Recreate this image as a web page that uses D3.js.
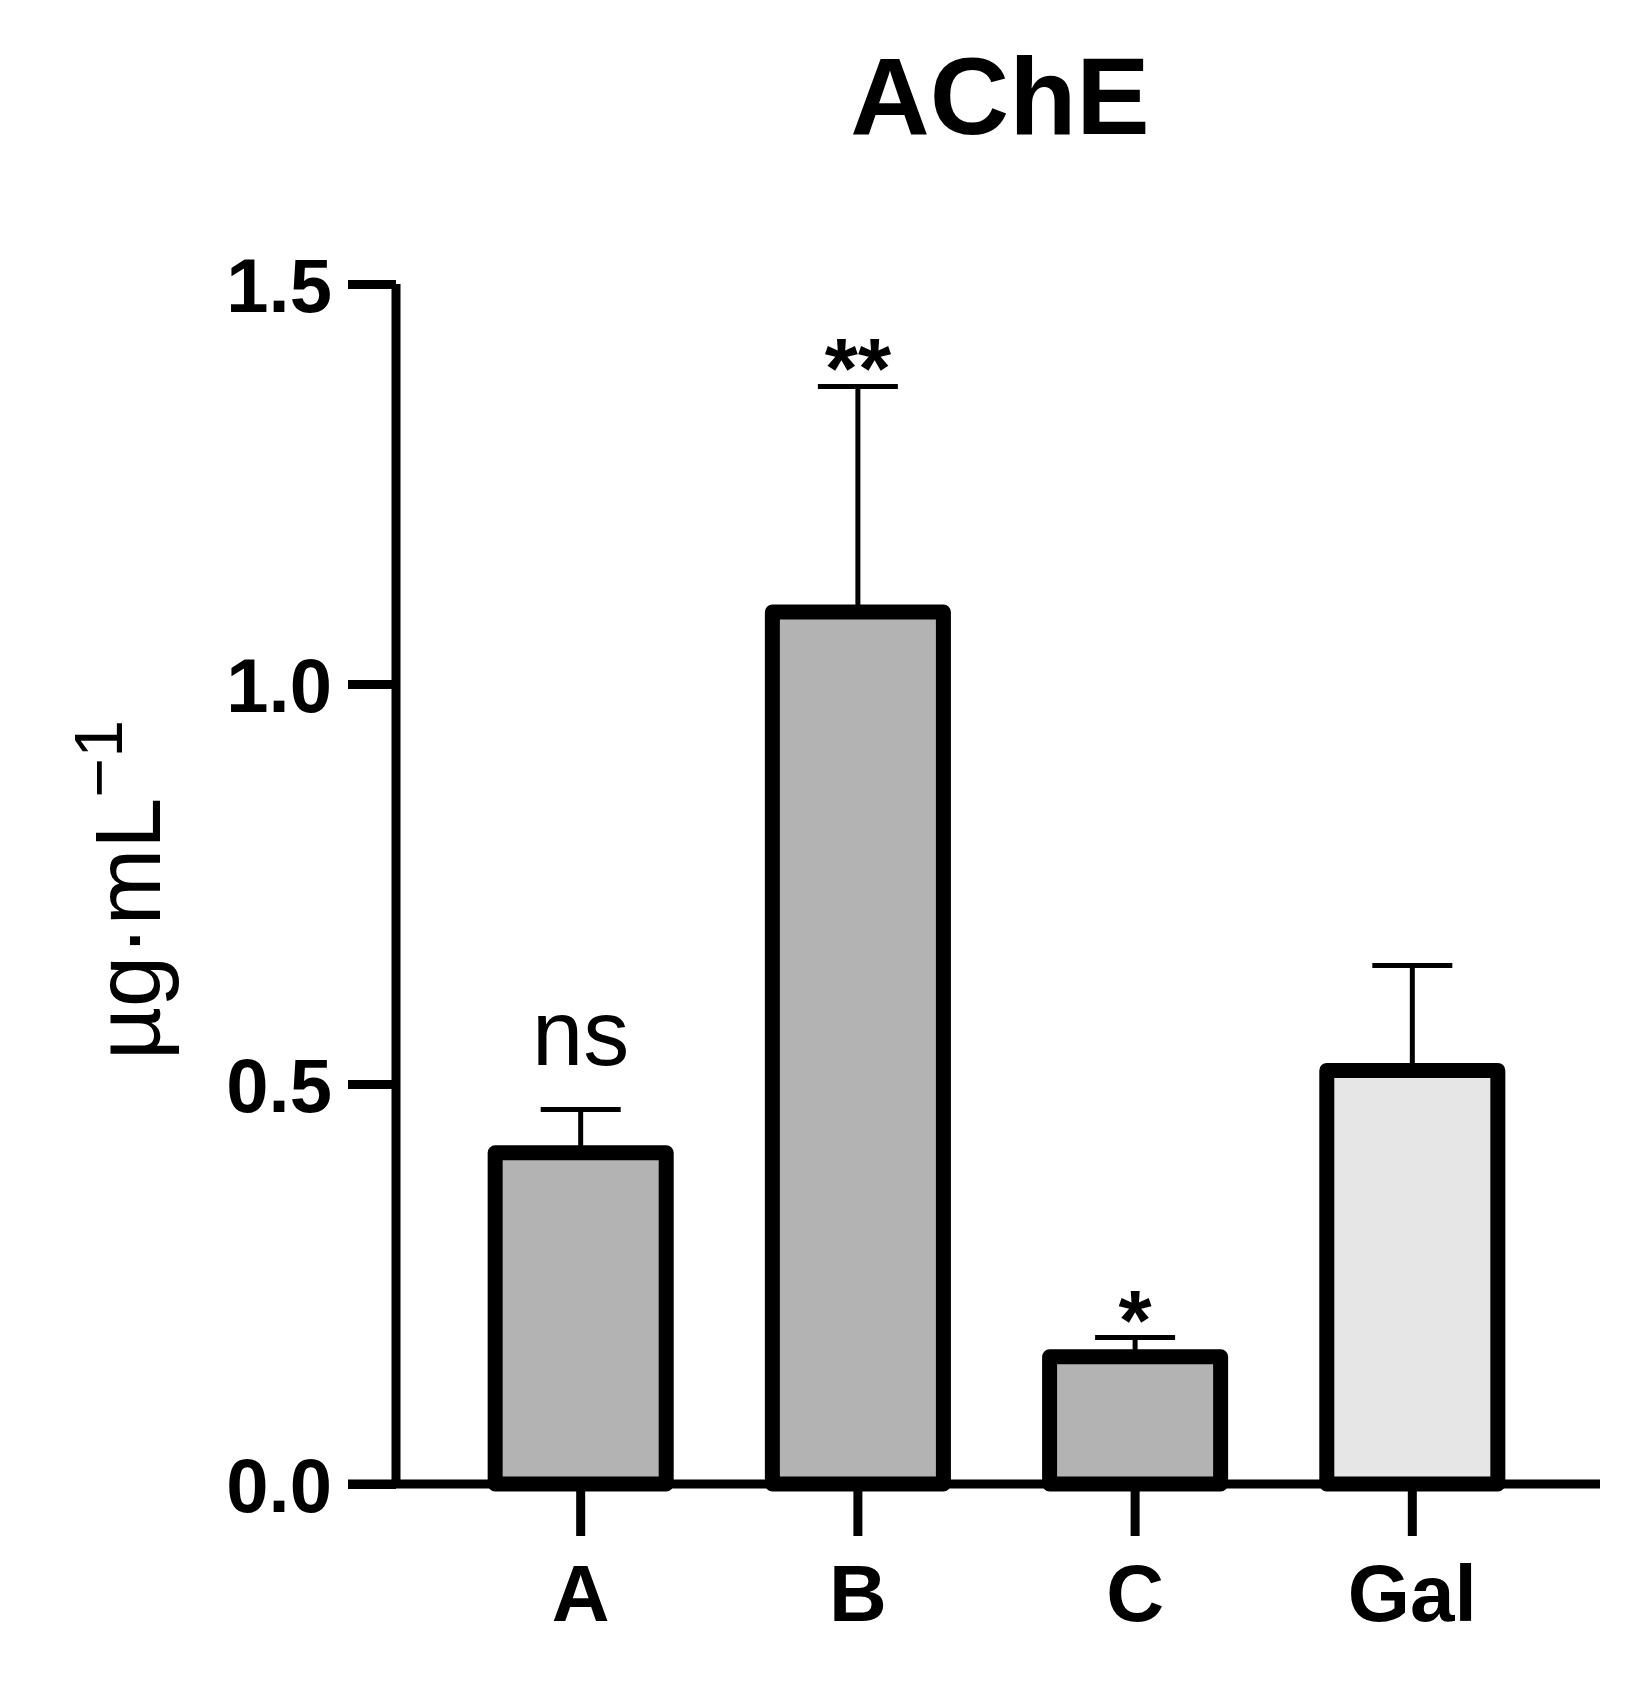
<!DOCTYPE html>
<html><head><meta charset="utf-8">
<script src="https://cdn.jsdelivr.net/npm/d3@7"></script>
<style>body{margin:0;background:#fff}</style></head>
<body><svg id="c" width="1626" height="1681"></svg>
<script>
const categories=["A","B","C","Gal"];
const values=[0.414,1.09,0.159,0.517];
const errors=[0.054,0.282,0.024,0.131];
const marks=["ns","**","*",""];
const fills=["#b3b3b3","#b3b3b3","#b3b3b3","#e6e6e6"];
const yTicks=[0,0.5,1.0,1.5];

const svg=d3.select("#c");
const font="Liberation Sans, Arial, sans-serif";
const y=d3.scaleLinear().domain([0,1.5]).range([1484,284]);
const x=d3.scaleBand().domain(categories).range([412,1581]).paddingInner(0.383).paddingOuter(0.3);

svg.append("text").attr("x",1000).attr("y",134).attr("text-anchor","middle")
 .attr("font-family",font).attr("font-weight","bold").attr("font-size",110).text("AChE");

const yl=svg.append("text").attr("transform","translate(160,890) rotate(-90)").attr("text-anchor","middle")
 .attr("font-family",font).attr("font-size",92);
yl.append("tspan").text("µg·mL");
yl.append("tspan").attr("dy",-38).attr("font-size",68).text("−1");

categories.forEach((c,i)=>{
  const cx=x(c)+x.bandwidth()/2, top=y(values[i]+errors[i]);
  svg.append("line").attr("x1",cx).attr("x2",cx).attr("y1",y(values[i])).attr("y2",top).attr("stroke","#000").attr("stroke-width",5);
  svg.append("line").attr("x1",cx-40).attr("x2",cx+40).attr("y1",top).attr("y2",top).attr("stroke","#000").attr("stroke-width",5);
  svg.append("rect").attr("x",x(c)).attr("y",y(values[i])).attr("width",x.bandwidth()).attr("height",y(0)-y(values[i]))
   .attr("fill",fills[i]).attr("stroke","#000").attr("stroke-width",15).attr("stroke-linejoin","round");
  if(marks[i]){
    const bold=marks[i]!=="ns";
    svg.append("text").attr("x",cx).attr("y",bold?top+12:top-45).attr("text-anchor","middle")
     .attr("font-family",font).attr("font-weight",bold?"bold":"normal").attr("font-size",bold?85:92).text(marks[i]);
  }
});

const ya=svg.append("g").attr("transform","translate(396,0)")
 .call(d3.axisLeft(y).tickValues(yTicks).tickFormat(d3.format(".1f")).tickSize(48).tickPadding(16));
ya.select(".domain").attr("stroke-width",9).attr("d","M0,"+y(1.5)+"V"+y(0));
ya.selectAll(".tick line").attr("stroke-width",9);
ya.selectAll("text").attr("font-family",font).attr("font-weight","bold").attr("font-size",76).attr("dy","0.36em");

const xa=svg.append("g").attr("transform","translate(0,1484)")
 .call(d3.axisBottom(x).tickSize(52).tickPadding(28));
xa.select(".domain").attr("stroke-width",9).attr("d","M348,0H1600");
xa.selectAll(".tick line").attr("stroke-width",9);
xa.selectAll("text").attr("font-family",font).attr("font-weight","bold").attr("font-size",80);
</script></body></html>
